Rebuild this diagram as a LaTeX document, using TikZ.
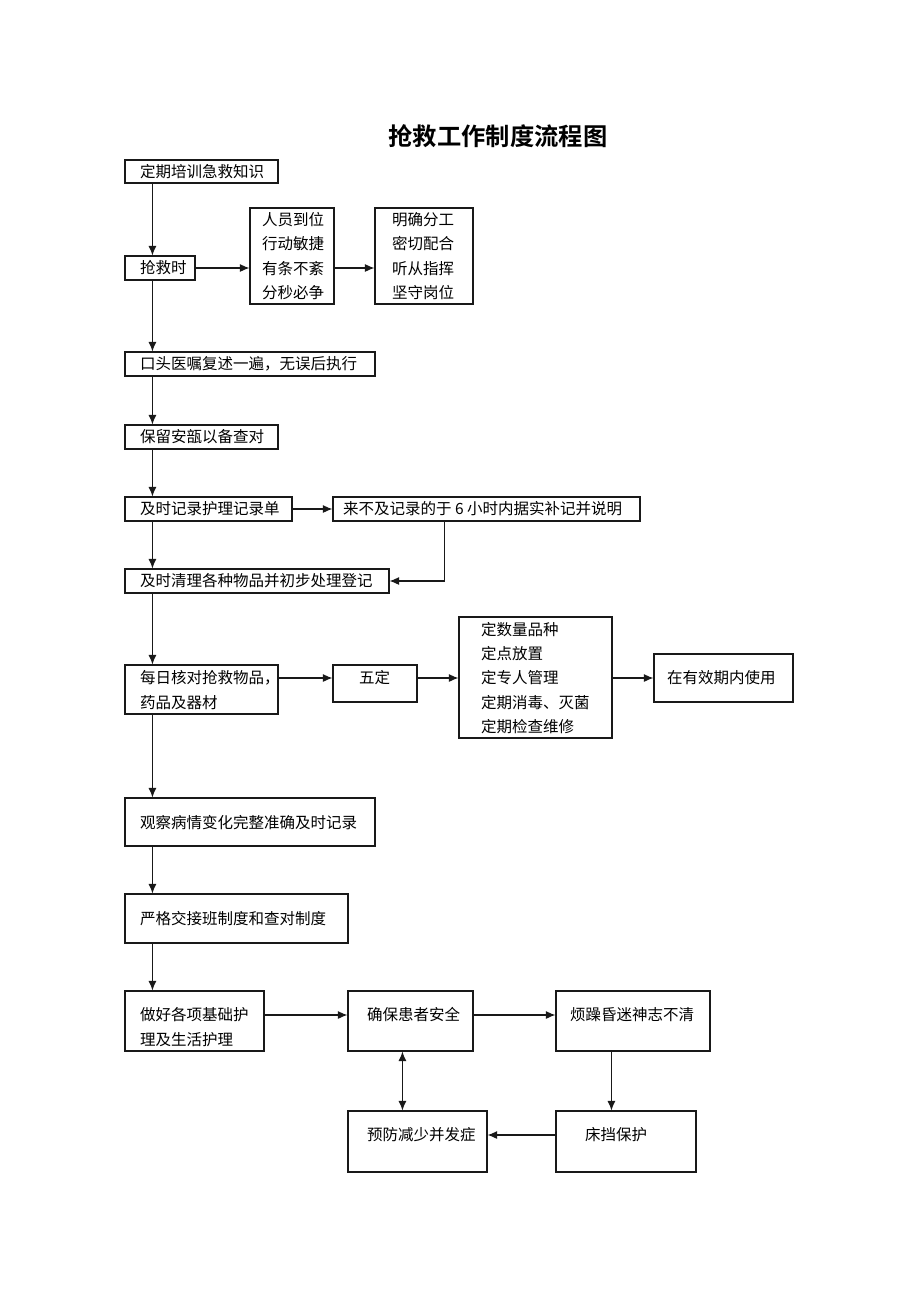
\documentclass[tikz,border=0pt]{standalone}
\usepackage{fontspec}
\newfontfamily\cjk{Noto Sans CJK SC}
\newfontfamily\cjkbold{Noto Sans CJK SC Bold}
\usetikzlibrary{arrows.meta}
\tikzset{
  box/.style={draw=black!90, line width=1.1pt, inner sep=0pt, rectangle},
  txt/.style={inner sep=0pt, align=left, anchor=west, font=\cjk\fontsize{15.5}{24.3}\selectfont},
  arr/.style={draw=black!90, line width=1.1pt, -{Latex[length=9.5pt,width=8pt]}},
  darr/.style={draw=black!90, line width=1.1pt, {Latex[length=9.5pt,width=8pt]}-{Latex[length=9.5pt,width=8pt]}}
}
\newcommand\bx[8]{%
  \node[box, minimum width={#4pt-#2pt}, minimum height={#5pt-#3pt}] (#1) at ({(#2+#4)/2},{(#3+#5)/2}) {};
  \node[txt] (#1t) at (#6,#7) {#8};}
\begin{document}
\begin{tikzpicture}[x=1pt,y=-1pt]
\useasboundingbox (0,0) rectangle (920,1302);
\node[font=\cjkbold\fontsize{24.3}{28}\selectfont, inner sep=0pt] (title) at (498,136) {抢救工作制度流程图};
\bx{b1}{125}{160}{278}{183}{140}{171.5}{定期培训急救知识}
\bx{b2}{125}{256}{195}{280}{140}{268}{抢救时}
\bx{b3}{250}{208}{334}{304}{262}{256}{人员到位\\行动敏捷\\有条不紊\\分秒必争}
\bx{b4}{375}{208}{473}{304}{392}{256}{明确分工\\密切配合\\听从指挥\\坚守岗位}
\bx{b5}{125}{352}{375}{376}{140}{364}{口头医嘱复述一遍，无误后执行}
\bx{b6}{125}{425}{278}{449}{140}{437}{保留安瓿以备查对}
\bx{b7}{125}{497}{292}{521}{140}{509}{及时记录护理记录单}
\bx{b8}{333}{497}{640}{521}{343}{509}{来不及记录的于 6 小时内据实补记并说明}
\bx{b9}{125}{569}{389}{593}{140}{581}{及时清理各种物品并初步处理登记}
\bx{b10}{125}{665}{278}{714}{140}{690}{每日核对抢救物品，\\药品及器材}
\bx{b11}{333}{665}{417}{702}{359}{678}{五定}
\bx{b12}{459}{617}{612}{738}{481}{678}{定数量品种\\定点放置\\定专人管理\\定期消毒、灭菌\\定期检查维修}
\bx{b13}{654}{654}{793}{702}{667}{678}{在有效期内使用}
\bx{b14}{125}{798}{375}{846}{140}{823}{观察病情变化完整准确及时记录}
\bx{b15}{125}{894}{348}{943}{140}{919}{严格交接班制度和查对制度}
\bx{b16}{125}{991}{264}{1051}{140}{1027}{做好各项基础护\\理及生活护理}
\bx{b17}{348}{991}{473}{1051}{367}{1015}{确保患者安全}
\bx{b18}{556}{991}{710}{1051}{570}{1015}{烦躁昏迷神志不清}
\bx{b19}{348}{1111}{487}{1172}{367}{1135}{预防减少并发症}
\bx{b20}{556}{1111}{696}{1172}{585}{1135}{床挡保护}
\coordinate (y268) at (0,268);
\coordinate (y678) at (0,678);
\coordinate (y1015) at (0,1015);
\coordinate (y1135) at (0,1135);
% main column
\draw[arr] ([xshift=28pt]b1.south west) -- ([xshift=28pt]b2.north west);
\draw[arr] ([xshift=28pt]b2.south west) -- ([xshift=28pt]b5.north west);
\draw[arr] ([xshift=28pt]b5.south west) -- ([xshift=28pt]b6.north west);
\draw[arr] ([xshift=28pt]b6.south west) -- ([xshift=28pt]b7.north west);
\draw[arr] ([xshift=28pt]b7.south west) -- ([xshift=28pt]b9.north west);
\draw[arr] ([xshift=28pt]b9.south west) -- ([xshift=28pt]b10.north west);
\draw[arr] ([xshift=28pt]b10.south west) -- ([xshift=28pt]b14.north west);
\draw[arr] ([xshift=28pt]b14.south west) -- ([xshift=28pt]b15.north west);
\draw[arr] ([xshift=28pt]b15.south west) -- ([xshift=28pt]b16.north west);
% side branches
\draw[arr] (b2.east |- y268) -- (b3.west |- y268);
\draw[arr] (b3.east |- y268) -- (b4.west |- y268);
\draw[arr] (b7.east) -- (b8.west |- b7.east);
\draw[arr] ([xshift=112pt]b8.south west) |- (b9.east);
\draw[arr] (b10.east |- y678) -- (b11.west |- y678);
\draw[arr] (b11.east |- y678) -- (b12.west |- y678);
\draw[arr] (b12.east |- y678) -- (b13.west |- y678);
\draw[arr] (b16.east |- y1015) -- (b17.west |- y1015);
\draw[arr] (b17.east |- y1015) -- (b18.west |- y1015);
\draw[arr] ([xshift=56pt]b18.south west) -- ([xshift=56pt]b20.north west);
\draw[arr] (b20.west |- y1135) -- (b19.east |- y1135);
\draw[darr] ([xshift=55pt]b17.south west) -- ([xshift=55pt]b19.north west);
\end{tikzpicture}
\end{document}
